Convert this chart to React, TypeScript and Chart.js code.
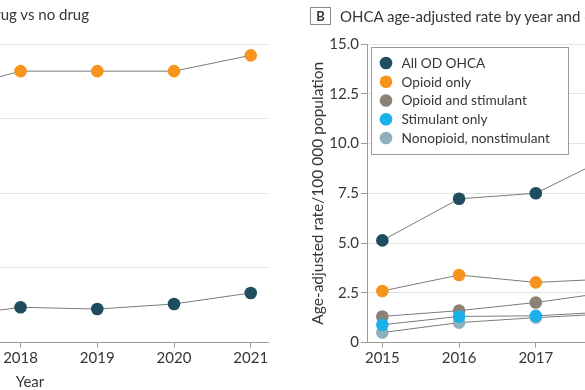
import React, { useEffect, useRef } from "react";
import { Chart, registerables } from "chart.js";

Chart.register(...registerables);

// ---------- data ----------
const years = [2015, 2016, 2017, 2018, 2019, 2020, 2021];

// Panel A: drug vs no drug
const aSeriesLabels = ["Drug", "No drug"];
const drugShare = [80.5, 82.0, 84.0, 90.9, 90.9, 90.9, 96.2];
const noDrugShare = [9.5, 9.0, 8.3, 11.8, 11.2, 12.9, 16.6];
const aTickValues = [0, 25, 50, 75, 100];
const aTickLabels = ["0", "25", "50", "75", "100"];

// Panel B: age-adjusted rate per 100 000
const bSeriesLabels = [
  "All OD OHCA",
  "Opioid only",
  "Opioid and stimulant",
  "Stimulant only",
  "Nonopioid, nonstimulant",
];
const allOdOhca = [5.13, 7.22, 7.5, 9.4, 10.6, 11.9, 13.2];
const opioidOnly = [2.59, 3.39, 3.02, 3.2, 3.5, 4.1, 4.3];
const opioidAndStimulant = [1.31, 1.6, 2.01, 2.55, 3.1, 4.0, 4.9];
const stimulantOnly = [0.89, 1.31, 1.34, 1.55, 1.75, 1.95, 2.2];
const nonopioidNonstimulant = [0.5, 1.0, 1.25, 1.45, 1.55, 1.65, 1.8];
const bTickValues = [0, 2.5, 5, 7.5, 10, 12.5, 15];
const bTickLabels = ["0", "2.5", "5.0", "7.5", "10.0", "12.5", "15.0"];

const titleA = "Proportion of OD OHCA with drug vs no drug";
const titleB = "OHCA age-adjusted rate by year and drug category";
const xTitle = "Year";
const yTitleB = "Age-adjusted rate/100 000 population";

// ---------- style ----------
const FONT = "Lato, 'Open Sans', sans-serif";
const TEXT = "#363636";
const AXIS = "#9a9a9a";
const GRID = "#e3e3e3";
const LINE = "#7a7a7a";
const C_DARK = "#1e4d5f";
const C_ORANGE = "#f7941d";
const C_BROWN = "#8b8174";
const C_BLUE = "#19b1e8";
const C_GRAYBLUE = "#8eb0bd";

const X_MIN = 2014.8;
const X_MAX = 2021.225;

function lineDataset(label: string, values: number[], color: string, order = 1) {
  return {
    label,
    data: years.map((y, i) => ({ x: y, y: values[i] })),
    borderColor: LINE,
    borderWidth: 1,
    backgroundColor: color,
    pointBackgroundColor: color,
    pointBorderColor: color,
    pointBorderWidth: 0,
    pointRadius: 6.3,
    pointHoverRadius: 6.3,
    fill: false,
    tension: 0,
    order,
  };
}

function xScale(showTitle: boolean) {
  return {
    type: "linear" as const,
    min: X_MIN,
    max: X_MAX,
    afterBuildTicks: (s: any) => {
      s.ticks = years.map((v) => ({ value: v }));
    },
    afterFit: (s: any) => {
      s.height = 47.5;
    },
    ticks: {
      callback: (v: any) => String(v),
      color: TEXT,
      font: { family: FONT, size: 15 },
      padding: 2,
      autoSkip: false,
      maxRotation: 0,
    },
    grid: { drawOnChartArea: false, drawTicks: true, tickLength: 5, tickColor: AXIS },
    border: { color: AXIS, width: 1 },
    title: {
      display: showTitle,
      text: xTitle,
      color: TEXT,
      font: { family: FONT, size: 15 },
      padding: { top: 0, bottom: 0 },
    },
  };
}

function yScale(min: number, max: number, tv: number[], tl: string[], width: number, title: string | null) {
  return {
    type: "linear" as const,
    min,
    max,
    afterBuildTicks: (s: any) => {
      s.ticks = tv.map((v) => ({ value: v }));
    },
    afterFit: (s: any) => {
      s.width = width;
    },
    ticks: {
      callback: (v: any) => tl[tv.indexOf(v)],
      color: TEXT,
      font: { family: FONT, size: 15 },
      padding: 2,
    },
    grid: { color: GRID, lineWidth: 1, drawTicks: true, tickLength: 6, tickColor: AXIS },
    border: { color: AXIS, width: 1 },
    title: {
      display: !!title,
      text: title || "",
      color: TEXT,
      font: { family: FONT, size: 15.5 },
      padding: { top: 19, bottom: 0 },
    },
  };
}

const legendBox = {
  id: "legendBox",
  afterDatasetsDraw(chart: any) {
    const { ctx, chartArea } = chart;
    const x0 = Math.round(chartArea.left) + 4.5;
    const y0 = Math.round(chartArea.top) + 3.5;
    const w = 197;
    const h = 107;
    ctx.save();
    ctx.fillStyle = "#ffffff";
    ctx.fillRect(x0, y0, w, h);
    ctx.strokeStyle = "#9a9a9a";
    ctx.lineWidth = 1;
    ctx.strokeRect(x0, y0, w, h);
    ctx.font = `13.7px ${FONT}`;
    ctx.textBaseline = "middle";
    chart.data.datasets.forEach((ds: any, i: number) => {
      const cy = y0 + 15.5 + i * 18.75;
      ctx.beginPath();
      ctx.arc(x0 + 14.5, cy, 6.3, 0, Math.PI * 2);
      ctx.fillStyle = ds.pointBackgroundColor;
      ctx.fill();
      ctx.fillStyle = TEXT;
      ctx.fillText(ds.label, x0 + 30, cy + 0.5);
    });
    ctx.restore();
  },
};

function baseOptions(scales: any) {
  return {
    responsive: false,
    animation: false as const,
    devicePixelRatio: 1,
    layout: { padding: { top: 44, left: 0, right: 12, bottom: 0 } },
    plugins: { legend: { display: false }, tooltip: { enabled: false }, title: { display: false } },
    scales,
  };
}

export default function App() {
  const refA = useRef<HTMLCanvasElement | null>(null);
  const refB = useRef<HTMLCanvasElement | null>(null);

  useEffect(() => {
    const chartA = new Chart(refA.current as HTMLCanvasElement, {
      type: "line",
      data: {
        datasets: [
          lineDataset(aSeriesLabels[0], drugShare, C_ORANGE) as any,
          lineDataset(aSeriesLabels[1], noDrugShare, C_DARK) as any,
        ],
      },
      options: baseOptions({
        x: xScale(false),
        y: yScale(0, 100, aTickValues, aTickLabels, 75, null),
      }) as any,
    });
    const chartB = new Chart(refB.current as HTMLCanvasElement, {
      type: "line",
      data: {
        datasets: [
          lineDataset(bSeriesLabels[0], allOdOhca, C_DARK, 1) as any,
          lineDataset(bSeriesLabels[1], opioidOnly, C_ORANGE, 1) as any,
          lineDataset(bSeriesLabels[2], opioidAndStimulant, C_BROWN, 1) as any,
          lineDataset(bSeriesLabels[3], stimulantOnly, C_BLUE, 0) as any,
          lineDataset(bSeriesLabels[4], nonopioidNonstimulant, C_GRAYBLUE, 2) as any,
        ],
      },
      options: baseOptions({
        x: xScale(true),
        y: yScale(0, 15, bTickValues, bTickLabels, 77, yTitleB),
      }) as any,
      plugins: [legendBox],
    });
    return () => {
      chartA.destroy();
      chartB.destroy();
    };
  }, []);

  const titleFont: React.CSSProperties = {
    fontFamily: FONT,
    fontSize: 15,
    color: TEXT,
    lineHeight: "18px",
    whiteSpace: "nowrap",
  };

  return (
    <div
      style={{
        position: "fixed",
        left: 0,
        top: 0,
        width: 585,
        height: 390,
        overflow: "hidden",
        background: "#ffffff",
      }}
    >
      <canvas
        ref={refA}
        width={580}
        height={390}
        style={{ position: "absolute", left: -300, top: 0, width: 580, height: 390, display: "block" }}
      />
      <canvas
        ref={refB}
        width={582}
        height={390}
        style={{ position: "absolute", left: 290, top: 0, width: 582, height: 390, display: "block" }}
      />
      <div style={{ ...titleFont, position: "absolute", right: 496, top: 5, textAlign: "right" }}>
        <span
          style={{
            display: "inline-block",
            border: "1px solid #8a8a8a",
            fontWeight: 700,
            fontSize: 13,
            width: 19,
            height: 16,
            lineHeight: "16px",
            textAlign: "center",
            marginRight: 9,
          }}
        >
          A
        </span>
        {titleA}
      </div>
      <div style={{ ...titleFont, position: "absolute", left: 310, top: 7, display: "flex", alignItems: "center" }}>
        <span
          style={{
            display: "inline-block",
            border: "1px solid #8a8a8a",
            fontWeight: 700,
            fontSize: 13,
            width: 19,
            height: 16,
            lineHeight: "16px",
            textAlign: "center",
            marginRight: 9,
          }}
        >
          B
        </span>
        <span>{titleB}</span>
      </div>
      <div
        style={{
          position: "absolute",
          left: 0,
          top: 373,
          width: 60,
          textAlign: "center",
          fontFamily: FONT,
          fontSize: 15,
          lineHeight: "17px",
          color: TEXT,
        }}
      >
        {xTitle}
      </div>
    </div>
  );
}
